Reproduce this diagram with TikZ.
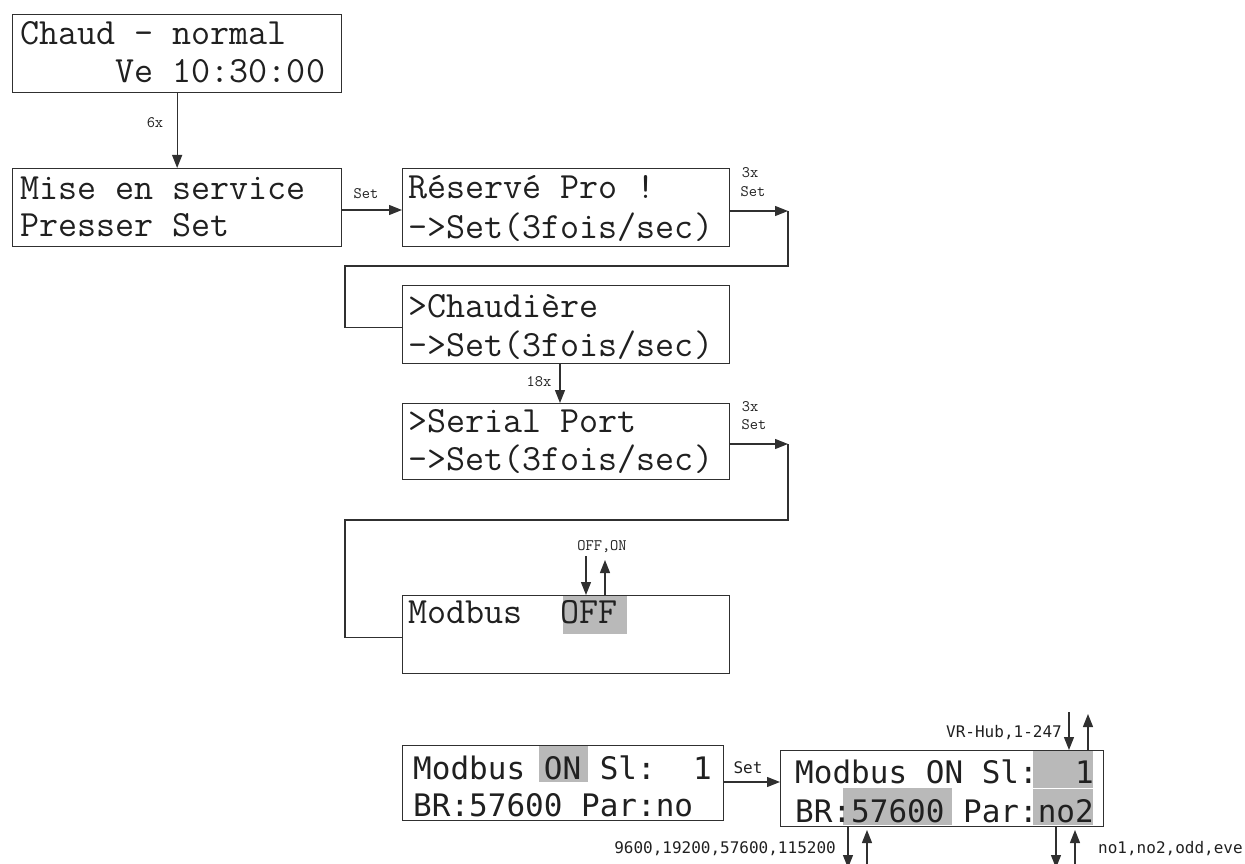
\documentclass[tikz,border=0pt]{standalone}
\usepackage{fontspec}
\usetikzlibrary{arrows.meta,calc}
\newfontfamily\dejm{DejaVu Sans Mono}[WordSpace={1,0,0}]
\definecolor{ln}{HTML}{303030}
\definecolor{hl}{HTML}{B9B9B9}
\definecolor{tx}{HTML}{202020}
\tikzset{
  box/.style={draw=ln, line width=1.3pt, rectangle, inner sep=0pt, anchor=north west},
  big/.style={inner sep=0pt, anchor=base west, font=\ttfamily\fontsize{37}{40}\selectfont, text=tx},
  lcd/.style={inner sep=0pt, anchor=base west, font=\dejm\fontsize{31}{36}\selectfont, text=tx},
  lab/.style={inner sep=0pt, font=\ttfamily\fontsize{16}{18}\selectfont, text=tx},
  labs/.style={inner sep=0pt, font=\dejm\fontsize{16}{18}\selectfont, text=tx},
  con/.style={draw=ln, line width=1.3pt},
  arr/.style={con, -{Triangle[length=13pt,width=10pt]}},
}
\begin{document}
\begin{tikzpicture}[x=1pt,y=-1pt]
\useasboundingbox (0,0) rectangle (1245,864);
% highlights
\fill[hl] (563,595) rectangle (627,634);
\fill[hl] (539,746) rectangle (588,782);
\fill[hl] (1033,751) rectangle (1093,787.5);
\fill[hl] (1033,788.5) rectangle (1093,825);
\fill[hl] (843,788) rectangle (952,825);
% boxes
\node[box, minimum width=329pt, minimum height=78pt] (b1) at (12,14) {};
\node[box, minimum width=329pt, minimum height=78pt] (b2) at (12,168) {};
\node[box, minimum width=327pt, minimum height=78pt] (b3) at (402,168) {};
\node[box, minimum width=327pt, minimum height=78pt] (b4) at (402,285) {};
\node[box, minimum width=327pt, minimum height=76pt] (b5) at (402,403) {};
\node[box, minimum width=327pt, minimum height=78pt] (b6) at (402,595) {};
\node[box, minimum width=321pt, minimum height=75pt] (b7) at (402,745) {};
\node[box, minimum width=323pt, minimum height=76pt] (b8) at (780,750) {};
% texts
\node[big] (t1a) at ($(b1.north west)+(8,31)$) {Chaud - normal};
\node[big] (t1b) at ($(b1.north west)+(8,69)$) {~~~~~Ve 10:30:00};
\node[big] (t2a) at ($(b2.north west)+(8,32)$) {Mise en service};
\node[big] (t2b) at ($(b2.north west)+(8,68)$) {Presser Set};
\node[big] (t3a) at ($(b3.north west)+(6,30)$) {Réservé Pro !};
\node[big] (t3b) at ($(b3.north west)+(6,70)$) {->Set(3fois/sec)};
\node[big] (t4a) at ($(b4.north west)+(6,32)$) {>Chaudière};
\node[big] (t4b) at ($(b4.north west)+(6,71)$) {->Set(3fois/sec)};
\node[big] (t5a) at ($(b5.north west)+(6,29)$) {>Serial Port};
\node[big] (t5b) at ($(b5.north west)+(6,67)$) {->Set(3fois/sec)};
\node[big] (t6a) at ($(b6.north west)+(6,28)$) {Modbus~~OFF};
\node[lcd] (t7a) at ($(b7.north west)+(11,34)$) {Modbus ON Sl:~~1};
\node[lcd] (t7b) at ($(b7.north west)+(11,71)$) {BR:57600 Par:no};
\node[lcd] (t8a) at ($(b8.north west)+(15,33)$) {Modbus ON Sl:~~1};
\node[lcd] (t8b) at ($(b8.north west)+(15,72)$) {BR:57600 Par:no2};
% connectors
\draw[arr] (b1.south) -- (b2.north);
\node[lab] (l6x) at (155,123) {6x};
\coordinate (y210) at (0,210);
\draw[arr] (b2.east |- y210) -- (b3.west |- y210);
\node[lab] (lset1) at (366,194) {Set};
\coordinate (c1) at (788,211);
\coordinate (c2) at (345,266);
\draw[arr] (b3.east |- c1) -- (c1);
\draw[con] (c1) |- (c2) |- ($(b4.west)+(0,3)$);
\node[lab] (l3x1) at (750,173) {3x};
\node[lab] (lset2) at (753,192) {Set};
\coordinate (x18) at (560,0);
\draw[arr] (b4.south -| x18) -- (b5.north -| x18);
\node[lab] (l18) at (539,382) {18x};
\coordinate (c3) at (788,444);
\coordinate (c4) at (345,520);
\draw[arr] (b5.east |- c3) -- (c3);
\draw[con] (c3) |- (c4) |- ($(b6.west)+(0,3)$);
\node[lab] (l3x2) at (750,407) {3x};
\node[lab] (lset3) at (754,425) {Set};
\coordinate (o1) at (586,556);
\coordinate (o2) at (605,560);
\draw[arr] (o1) -- (o1 |- b6.north);
\draw[arr] (o2 |- b6.north) -- (o2);
\node[lab] (loff) at (602,547) {OFF,ON};
% bottom
\coordinate (y782) at (0,782);
\draw[arr] (b7.east |- y782) -- (b8.west |- y782);
\node[labs] (lset4) at (748,768) {Set};
\coordinate (v1) at (1069,712);
\coordinate (v2) at (1088,714);
\draw[arr] (v1) -- (v1 |- b8.north);
\draw[arr] (v2 |- b8.north) -- (v2);
\node[labs, anchor=east] (lvr) at (1062,733) {VR-Hub,1-247};
\coordinate (p1) at (848,868);
\coordinate (p2) at (867,830);
\coordinate (p2b) at (867,870);
\draw[arr] (p1 |- b8.south) -- (p1);
\draw[arr] (p2b) -- (p2);
\node[labs, anchor=east] (lbr) at (836,849) {9600,19200,57600,115200};
\coordinate (q1) at (1056,868);
\coordinate (q2) at (1075,830);
\coordinate (q2b) at (1075,870);
\draw[arr] (q1 |- b8.south) -- (q1);
\draw[arr] (q2b) -- (q2);
\node[labs, anchor=west] (lpar) at (1098,849) {no1,no2,odd,eve};
\end{tikzpicture}
\end{document}
